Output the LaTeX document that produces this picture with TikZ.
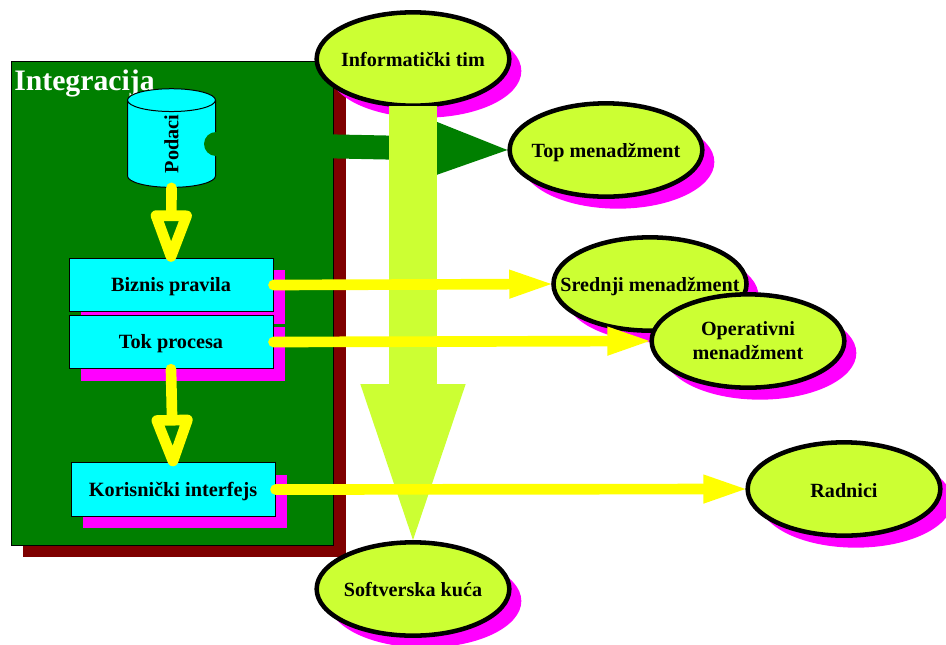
\documentclass[tikz,border=0pt]{standalone}
\usepackage{fontspec}
\setmainfont{Liberation Serif}
\usetikzlibrary{shapes.geometric, shadows, arrows.meta}
\definecolor{panelgreen}{HTML}{007F00}
\definecolor{limefill}{HTML}{CCFF33}
\definecolor{panelshadow}{HTML}{7F0000}
\definecolor{boxcyan}{HTML}{00FFFF}
\definecolor{shadowpink}{HTML}{FF00FF}
\definecolor{flowyellow}{HTML}{FFFF00}
\tikzset{
  oval/.style={ellipse, draw, line width=3.4pt, fill=limefill, minimum width=144.5pt, minimum height=70pt, inner ysep=0pt, inner xsep=-16pt,
    align=center, text depth=0pt, font=\bfseries\fontsize{15.1}{18}\selectfont,
    drop shadow={shadow xshift=9pt, shadow yshift=-9pt, fill=shadowpink, opacity=1}},
  boxnode/.style={rectangle, draw, line width=0.75pt, fill=boxcyan, minimum width=153pt, minimum height=40pt,
    text depth=0.5pt, font=\bfseries\fontsize{15.2}{18}\selectfont,
    drop shadow={shadow xshift=9pt, shadow yshift=-9pt, fill=shadowpink, opacity=1}},
  flow/.style={draw=flowyellow, line width=8pt, line cap=round, -{Triangle[length=31.5pt, width=22pt, line width=0pt, fill=flowyellow]}},
  downflow/.style={draw=flowyellow, line width=8pt, line cap=round, shorten >=-3pt, -{Triangle[open, round, length=47pt, width=32pt, line width=8pt]}}
}

\begin{document}
\begin{tikzpicture}[x=0.75pt, y=-0.75pt]
  \useasboundingbox (0, 0) rectangle (946, 644);
  \node (panel) [rectangle, draw, line width=0.75pt, fill=panelgreen, minimum width=242pt, minimum height=363pt,
    drop shadow={shadow xshift=9pt, shadow yshift=-9pt, fill=panelshadow, opacity=1}] at (172.5, 303) {};
  \node (title) [anchor=base west, inner sep=0pt, text=white, font=\bfseries\fontsize{22.3}{26}\selectfont] at (14, 90) {Integracija};
  \node (podaci) [cylinder, rotate=90, draw, line width=0.75pt, fill=boxcyan, shape aspect=1.6, minimum height=74pt, minimum width=66pt,
    inner sep=0pt, font=\bfseries\fontsize{15.2}{18}\selectfont] at (171.5, 144) {Podaci};
  \node (biznis) [boxnode] at (171, 285) {Biznis pravila};
  \node (tok) [boxnode] at (171, 342) {Tok procesa};
  \node (korisnik) [boxnode] at (173, 489.5) {Korisnički interfejs};
  \node (info) [oval] at (413, 59) {Informatički tim};
  \node (top) [oval] at (606, 150) {Top menadžment};
  \node (srednji) [oval] at (650, 284) {Srednji menadžment};
  \node (operativni) [oval] at (748, 341) {Operativni\\menadžment};
  \node (radnici) [oval, text height=13pt] at (844, 489) {Radnici};
  \node (softver) [oval] at (413, 589) {Softverska kuća};
  \draw[draw=panelgreen, line width=18pt, line cap=round, -{Triangle[length=56pt, width=42pt, line width=0pt, fill=panelgreen]}]
    (podaci.south) -- (top.west);
  \draw[draw=limefill, line width=36pt, shorten <=-1.5pt, -{Triangle[length=117pt, width=79pt, line width=0pt, fill=limefill]}] (info.south) -- (softver.north);
  \draw[downflow] (podaci.west) -- (biznis.north);
  \draw[downflow] (tok.south) -- (korisnik.north);
  \draw[flow] (biznis.east) -- (srednji.west);
  \draw[flow] (tok.east) -- (operativni.west);
  \draw[flow] (korisnik.east) -- (radnici.west);
\end{tikzpicture}
\end{document}
